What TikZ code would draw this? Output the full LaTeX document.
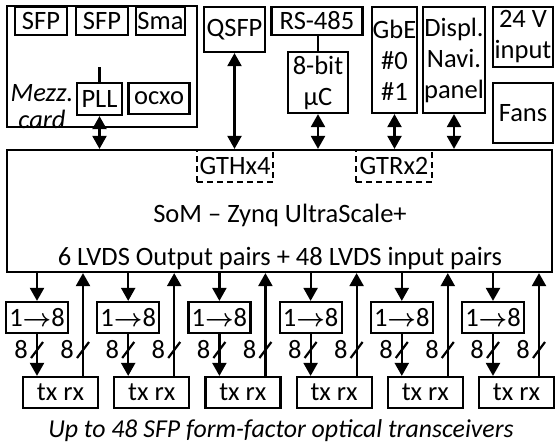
\documentclass[tikz,border=0pt]{standalone}
\usepackage{amsmath}
\usepackage{fontspec}
\setmainfont{Carlito}
\usetikzlibrary{arrows.meta,calc}

\begin{document}
\begin{tikzpicture}[x=1pt, y=-1pt, line width=2.2pt,
    every node/.style={font=\fontsize{26.5}{31}\selectfont},
    box/.style={draw, inner sep=0pt, align=center},
    gtbox/.style={box, dash pattern=on 6pt off 4pt, minimum width=76, minimum height=32},
    link/.style={{Triangle[length=13pt,width=14pt]}-{Triangle[length=13pt,width=14pt]}},
    down/.style={-{Triangle[length=13pt,width=14pt]}}]
    \useasboundingbox (0,0) rectangle (555,447);
    \node[box, minimum width=190, minimum height=121] (mezz) at (102,66.5) {};
    \node[box, minimum width=52, minimum height=28] (sfpa) at (41,21) {SFP};
    \node[box, minimum width=52, minimum height=28] (sfpb) at (102,21) {SFP};
    \node[box, minimum width=49, minimum height=28] (sma) at (160.5,21) {Sma};
    \node[box, minimum width=45, minimum height=32] (pll) at (99.5,99) {PLL};
    \node[box, minimum width=61, minimum height=31] (ocxo) at (159,98.5) {ocxo};
    \node[align=center, inner sep=0pt, font=\fontsize{26.5}{27}\selectfont\itshape] (mezzlbl) at (42,107) {Mezz.\\card};
    \coordinate (plltop) at (99.5,67);
    \draw (plltop) -- (pll.north);
    \node[box, minimum width=61, minimum height=45] (qsfp) at (234.5,29.5) {QSFP};
    \node[box, minimum width=91, minimum height=28] (rs) at (317,21) {RS-485};
    \node[box, minimum width=60, minimum height=61] (mcu) at (318,82.5) {8-bit\\µC};
    \node[box, minimum width=45, minimum height=106] (gbe) at (394.5,60) {GbE\\\#0\\\#1};
    \node[box, minimum width=62, minimum height=106] (displ) at (454,60) {Displ.\\Navi.\\panel};
    \node[box, minimum width=60, minimum height=60] (pwr) at (523,37) {24 V\\input};
    \node[box, minimum width=60, minimum height=60] (fans) at (523,113) {Fans};
    \node[box, minimum width=545, minimum height=122] (som) at (279.5,211) {};
    \node[gtbox] (gth) at (235,166) {GTHx4};
    \node[gtbox] (gtr) at (394,166) {GTRx2};
    \node[anchor=base, inner sep=0pt] (somlbl) at (280,222) {SoM – Zynq UltraScale+};
    \node[anchor=base, inner sep=0pt] (lvds) at (280,265) {6 LVDS Output pairs + 48 LVDS input pairs};
    \draw (mcu.north |- rs.south) -- (mcu.north);
    \draw[link] (pll.south) -- (pll.south |- som.north);
    \draw[link] (qsfp.south) -- (qsfp.south |- som.north);
    \draw[link] (mcu.south) -- (mcu.south |- som.north);
    \draw[link] (gbe.south) -- (gbe.south |- som.north);
    \draw[link] (displ.south) -- (displ.south |- som.north);
    \foreach \i in {0,...,5} {
        \pgfmathsetmacro\dx{37+91.2*\i}
        \node[box, minimum width=62, minimum height=31] (conv\i) at (\dx,317.5) {1$\boldsymbol{\rightarrow}$8};
        \node[box, minimum width=75, minimum height=31] (trx\i) at ({\dx+23.5},392.5) {tx rx};
        \coordinate (rx\i) at ([xshift=22.5pt]trx\i.north);
        \draw[down] (conv\i.north |- som.south) -- (conv\i.north);
        \draw[down] (conv\i.south) -- (conv\i.south |- trx\i.north);
        \draw[down] (rx\i) -- (rx\i |- som.south);
        \coordinate (ma\i) at (\dx,350);
        \coordinate (mb\i) at ({\dx+46},350);
        \draw ([shift={(-6,8)}]ma\i) -- ([shift={(6,-8)}]ma\i);
        \draw ([shift={(-6,8)}]mb\i) -- ([shift={(6,-8)}]mb\i);
        \node[anchor=east, inner sep=0pt] (na\i) at ([xshift=-8pt]ma\i) {8};
        \node[anchor=east, inner sep=0pt] (nb\i) at ([xshift=-8pt]mb\i) {8};
    }
    \node[anchor=base, inner sep=0pt, font=\fontsize{25.8}{30}\selectfont\itshape] (caption) at (281,437) {Up to 48 SFP form-factor optical transceivers};
\end{tikzpicture}
\end{document}
